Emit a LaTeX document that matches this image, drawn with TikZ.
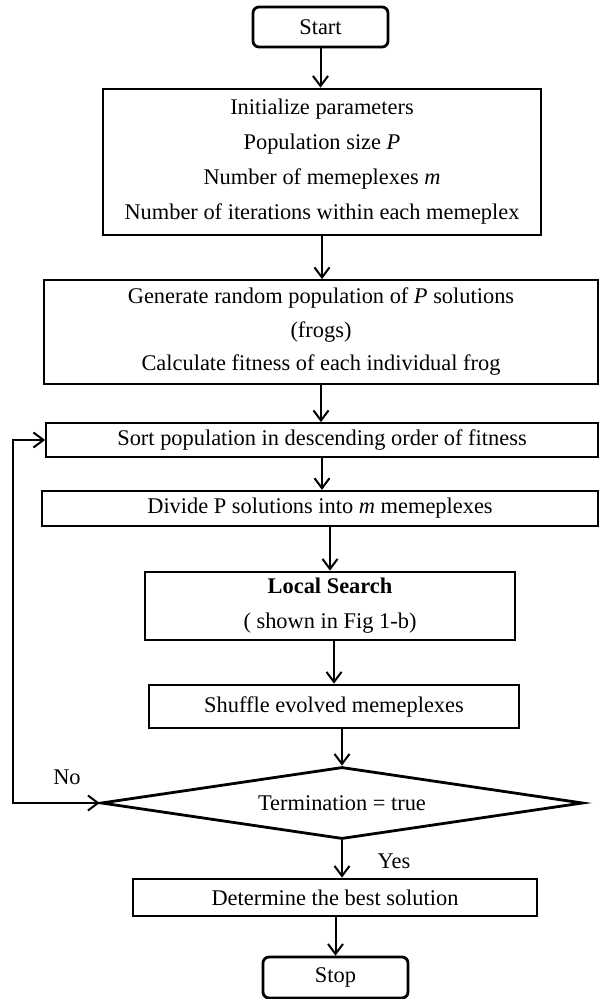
\documentclass[tikz,border=0pt]{standalone}
\usepackage{fontspec}
\setmainfont{Liberation Serif}
\usetikzlibrary{positioning,calc,arrows.meta,shapes.geometric}

\begin{document}
\begin{tikzpicture}[x=0.5pt,y=-0.5pt,
    font=\fontsize{11.2}{17.5}\selectfont,
    arr/.style={-{Straight Barb[length=5pt,width=7.5pt]},line width=1pt},
    term/.style={draw,rounded corners=3pt,line width=1.4pt,inner sep=0pt},
    proc/.style={draw,line width=1.4pt,align=center,inner sep=0pt},
    procthin/.style={proc,line width=0.9pt},
    test/.style={draw,diamond,aspect=6.7,inner sep=0pt,line width=1.4pt}]
    \useasboundingbox (0,0) rectangle (600,999);
    \node[term,minimum width=67.5pt,minimum height=20pt] (start) at (320.5,27) {Start};
    \node[proc,minimum width=219pt,minimum height=73pt] (init) at (322,162)
      {Initialize parameters\\Population size \textit{P}\\Number of memeplexes \textit{m}\\Number of iterations within each memeplex};
    \node[procthin,minimum width=277pt,minimum height=52pt,font=\fontsize{11.2}{16.75}\selectfont] (gen) at (321,332)
      {Generate random population of \textit{P} solutions\\(frogs)\\Calculate fitness of each individual frog};
    \node[procthin,minimum width=276pt,minimum height=17pt] (sort) at (322,440) {Sort population in descending order of fitness};
    \node[procthin,line width=1.1pt,minimum width=278pt,minimum height=17.5pt] (divide) at (320,508.5) {Divide P solutions into \textit{m} memeplexes};
    \node[proc,minimum width=185pt,minimum height=34pt] (local) at (330,606) {\textbf{Local Search}\\( shown in Fig 1-b)};
    \node[proc,minimum width=185pt,minimum height=21.5pt] (shuffle) at (334,706.5) {Shuffle evolved memeplexes};
    \node[test,minimum width=241pt,minimum height=36pt] (dec) at (342,803) {Termination = true};
    \node[proc,minimum width=202pt,minimum height=18.5pt] (best) at (335,897.5) {Determine the best solution};
    \node[term,minimum width=72.5pt,minimum height=20.5pt] (stop) at (335.5,977.5) {Stop};
    \node (no) at (67,777) {No};
    \node (yes) at (394,861) {Yes};
    \coordinate (back) at (13,803);
    \draw[arr] (start.south) -- (start.south |- init.north);
    \draw[arr] (init.south) -- (init.south |- gen.north);
    \draw[arr] (gen.south) -- (gen.south |- sort.north);
    \draw[arr] (sort.south) -- (sort.south |- divide.north);
    \draw[arr] (local.north |- divide.south) -- (local.north);
    \draw[arr] (shuffle.north |- local.south) -- (shuffle.north);
    \draw[arr] (dec.north |- shuffle.south) -- (dec.north);
    \draw[arr] (dec.south) -- (dec.south |- best.north);
    \draw[arr] (stop.north |- best.south) -- (stop.north);
    \draw[arr,{Straight Barb[length=5pt,width=7.5pt]}-{Straight Barb[length=5pt,width=7.5pt]}] (dec.west) -- (back) |- (sort.west);
\end{tikzpicture}
\end{document}
